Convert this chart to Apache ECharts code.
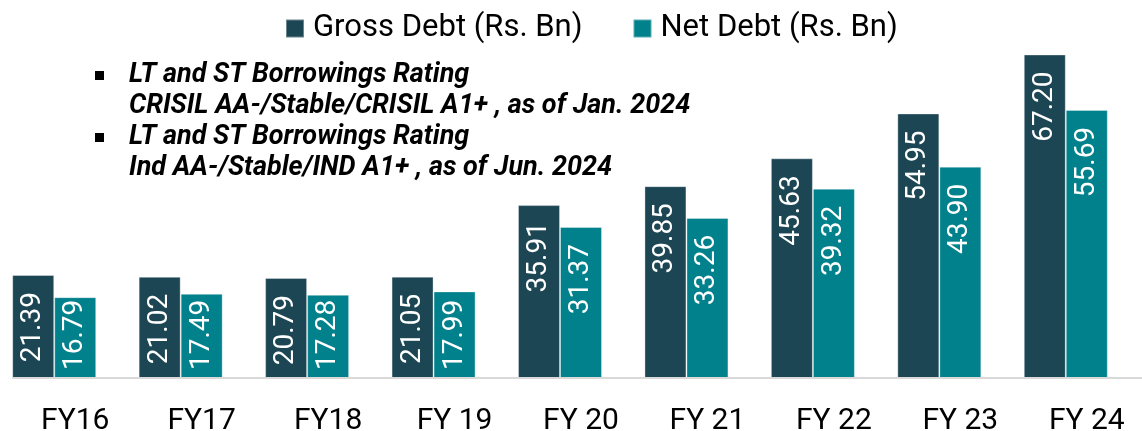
<!DOCTYPE html>
<html>
<head>
<meta charset="utf-8">
<script src="https://cdn.jsdelivr.net/npm/echarts@6/dist/echarts.min.js"></script>
<style>
  html, body { margin: 0; padding: 0; background: #ffffff; }
  #chart { width: 1142px; height: 431px; }
</style>
</head>
<body>
<div id="chart"></div>
<script>
// Fiscal years on the category axis
const years = ['FY16', 'FY17', 'FY18', 'FY 19', 'FY 20', 'FY 21', 'FY 22', 'FY 23', 'FY 24'];
// Debt figures in Rs. billion
const grossDebt = [21.39, 21.02, 20.79, 21.05, 35.91, 39.85, 45.63, 54.95, 67.20];
const netDebt = [16.79, 17.49, 17.28, 17.99, 31.37, 33.26, 39.32, 43.90, 55.69];
// Rating notes shown in the upper left
const ratingNotes = [
  ['LT and ST Borrowings Rating', 'CRISIL AA-/Stable/CRISIL A1+ , as of Jan. 2024'],
  ['LT and ST Borrowings Rating', 'Ind AA-/Stable/IND A1+ , as of Jun. 2024']
];

const FONT = 'Roboto, "Noto Sans", sans-serif';
const GROSS = '#1c4654';
const NET = '#00818c';
const Y_MAX = 70;
const PLOT_TOP = 41;
const PLOT_BOTTOM = 53;
const LABEL_SIZE = 28;

const chart = echarts.init(document.getElementById('chart'), null, { renderer: 'canvas' });

// Labels sit near the top of each bar; on short bars they are nudged up so they stay inside.
const plotHeight = 431 - PLOT_TOP - PLOT_BOTTOM;
const labelLength = LABEL_SIZE * 2.51;
function withLabelDistance(values) {
  return values.map(v => {
    const barPx = v / Y_MAX * plotHeight;
    const d = Math.max(2, Math.min(17, barPx - labelLength - 8));
    return { value: v, label: { distance: d } };
  });
}

const barLabel = {
  show: true,
  position: 'insideTop',
  distance: 17,
  rotate: 90,
  align: 'right',
  verticalAlign: 'middle',
  color: '#ffffff',
  fontFamily: FONT,
  fontSize: LABEL_SIZE,
  formatter: p => p.value.toFixed(2)
};

const noteElements = [];
ratingNotes.forEach((note, i) => {
  const y0 = 62 + i * 62;
  noteElements.push({
    type: 'rect',
    shape: { x: 95, y: y0 + 9, width: 9, height: 9 },
    style: { fill: '#000000' }
  });
  note.forEach((line, j) => {
    noteElements.push({
      type: 'text',
      x: 129,
      y: y0 + j * 30.5,
      style: {
        text: line,
        fill: '#000000',
        font: 'italic bold 27px ' + FONT,
        textVerticalAlign: 'top'
      }
    });
  });
});

chart.setOption({
  animation: false,
  backgroundColor: '#ffffff',
  legend: {
    top: 8,
    left: 280,
    itemWidth: 18,
    itemHeight: 18,
    itemGap: 50,
    icon: 'rect',
    textStyle: { fontFamily: FONT, fontSize: 31, color: '#000000', padding: [0, 0, 0, 4] },
    data: ['Gross Debt (Rs. Bn)', 'Net Debt (Rs. Bn)']
  },
  grid: {
    left: -9, right: 13, top: PLOT_TOP, bottom: PLOT_BOTTOM,
    containLabel: false,
    outerBoundsMode: 'none'
  },
  xAxis: {
    type: 'category',
    data: years,
    axisLine: { show: false },
    axisTick: { show: false },
    axisLabel: {
      margin: 28,
      fontFamily: FONT,
      fontSize: 30,
      color: '#000000',
      padding: [0, 0, 0, 42]
    }
  },
  yAxis: {
    type: 'value',
    min: 0,
    max: Y_MAX,
    show: false,
    splitLine: { show: false }
  },
  graphic: [
    {
      type: 'line',
      shape: { x1: 12, y1: 378, x2: 1142, y2: 378 },
      style: { stroke: '#d9d9d9', lineWidth: 2 },
      z: 10
    }
  ].concat(noteElements),
  series: [
    {
      name: 'Gross Debt (Rs. Bn)',
      type: 'bar',
      data: withLabelDistance(grossDebt),
      barWidth: 42,
      barGap: '0%',
      itemStyle: { color: GROSS, borderColor: 'rgba(255,255,255,0.35)', borderWidth: 1 },
      label: barLabel
    },
    {
      name: 'Net Debt (Rs. Bn)',
      type: 'bar',
      data: withLabelDistance(netDebt),
      barWidth: 42,
      itemStyle: { color: NET, borderColor: 'rgba(255,255,255,0.35)', borderWidth: 1 },
      label: barLabel
    }
  ]
});
</script>
</body>
</html>
